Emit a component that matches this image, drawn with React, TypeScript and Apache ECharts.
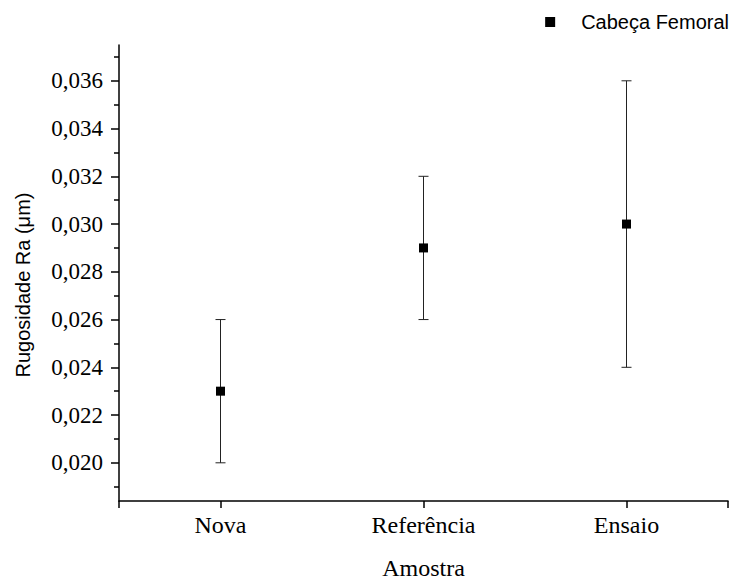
import React, { useEffect, useRef } from "react";
import * as echarts from "echarts";

const categories = ["Nova", "Referência", "Ensaio"];
const positions = [1, 2, 3];
const means = [0.023, 0.029, 0.030];
const lows = [0.020, 0.026, 0.024];
const highs = [0.026, 0.032, 0.036];
const yMajorTicks = [0.020, 0.022, 0.024, 0.026, 0.028, 0.030, 0.032, 0.034, 0.036];
const yMinorTicks = [0.019, 0.021, 0.023, 0.025, 0.027, 0.029, 0.031, 0.033, 0.035, 0.037];
const seriesName = "Cabeça Femoral";
const xTitle = "Amostra";
const yTitle = "Rugosidade Ra (\u03bcm)";

const SERIF = "Liberation Serif";
const SANS = "Liberation Sans";

export default function App() {
  const ref = useRef<HTMLDivElement>(null);
  useEffect(() => {
    if (!ref.current) return;
    const chart = echarts.init(ref.current, undefined, { renderer: "svg" });
    const yMin = 0.0184;
    const yMax = 0.0375;
    const axisLine = { show: true, lineStyle: { color: "#000", width: 1.5 } };
    chart.setOption({
      animation: false,
      backgroundColor: "#fff",
      textStyle: { fontFamily: SERIF },
      grid: { left: 119, right: 10, top: 45, bottom: 83, containLabel: false },
      legend: {
        right: 4,
        top: 7,
        icon: "rect",
        itemWidth: 10,
        itemHeight: 10,
        data: [seriesName],
        textStyle: { fontFamily: SANS, fontSize: 20, color: "#000", padding: [0, 0, 0, 21] },
      },
      xAxis: {
        type: "value",
        min: 0.5,
        max: 3.5,
        splitLine: { show: false },
        axisLine,
        axisTick: {
          show: true,
          length: 7,
          customValues: [0.5, 1, 2, 3, 3.5],
          lineStyle: { color: "#000", width: 1.5 },
        },
        axisLabel: {
          customValues: positions,
          formatter: (v: number) => categories[positions.indexOf(v)] ?? "",
          fontFamily: SERIF,
          fontSize: 24,
          color: "#000",
          margin: 12,
        },
        name: xTitle,
        nameLocation: "middle",
        nameGap: 55,
        nameTextStyle: { fontFamily: SERIF, fontSize: 24, color: "#000" },
      },
      yAxis: [
        {
          type: "value",
          min: yMin,
          max: yMax,
          splitLine: { show: false },
          axisLine,
          axisTick: {
            show: true,
            length: 8,
            customValues: yMajorTicks,
            lineStyle: { color: "#000", width: 1.5 },
          },
          axisLabel: {
            show: true,
            customValues: yMajorTicks,
            formatter: (v: number) => v.toFixed(3).replace(".", ","),
            fontFamily: SERIF,
            fontSize: 23,
            color: "#000",
            margin: 16,
          },
        },
        {
          type: "value",
          position: "left",
          min: yMin,
          max: yMax,
          splitLine: { show: false },
          axisLine: { show: false },
          axisTick: {
            show: true,
            length: 5,
            customValues: yMinorTicks,
            lineStyle: { color: "#000", width: 1.5 },
          },
          axisLabel: { show: false, customValues: [] },
        },
      ],
      graphic: [
        {
          type: "text",
          x: 23,
          y: 285,
          rotation: Math.PI / 2,
          style: {
            text: yTitle,
            font: `20px ${SANS}`,
            fill: "#000",
            textAlign: "center",
            textVerticalAlign: "middle",
          },
        },
      ],
      series: [
        {
          type: "custom",
          name: "err",
          silent: true,
          data: positions.map((p, i) => [p, lows[i], highs[i]]),
          renderItem: (params: any, api: any) => {
            const x = api.value(0);
            const lo = api.coord([x, api.value(1)]);
            const hi = api.coord([x, api.value(2)]);
            const half = 5;
            const style = { stroke: "#222", lineWidth: 1 };
            return {
              type: "group",
              children: [
                { type: "line", shape: { x1: lo[0], y1: lo[1], x2: hi[0], y2: hi[1] }, style },
                { type: "line", shape: { x1: hi[0] - half, y1: hi[1], x2: hi[0] + half, y2: hi[1] }, style },
                { type: "line", shape: { x1: lo[0] - half, y1: lo[1], x2: lo[0] + half, y2: lo[1] }, style },
              ],
            };
          },
          z: 1,
        },
        {
          type: "scatter",
          name: seriesName,
          symbol: "rect",
          symbolSize: 9,
          itemStyle: { color: "#000", opacity: 1 },
          data: positions.map((p, i) => [p, means[i]]),
          z: 3,
        },
      ],
    });
    return () => chart.dispose();
  }, []);
  return <div ref={ref} style={{ width: 738, height: 585, position: "absolute", left: 0, top: 0 }} />;
}
